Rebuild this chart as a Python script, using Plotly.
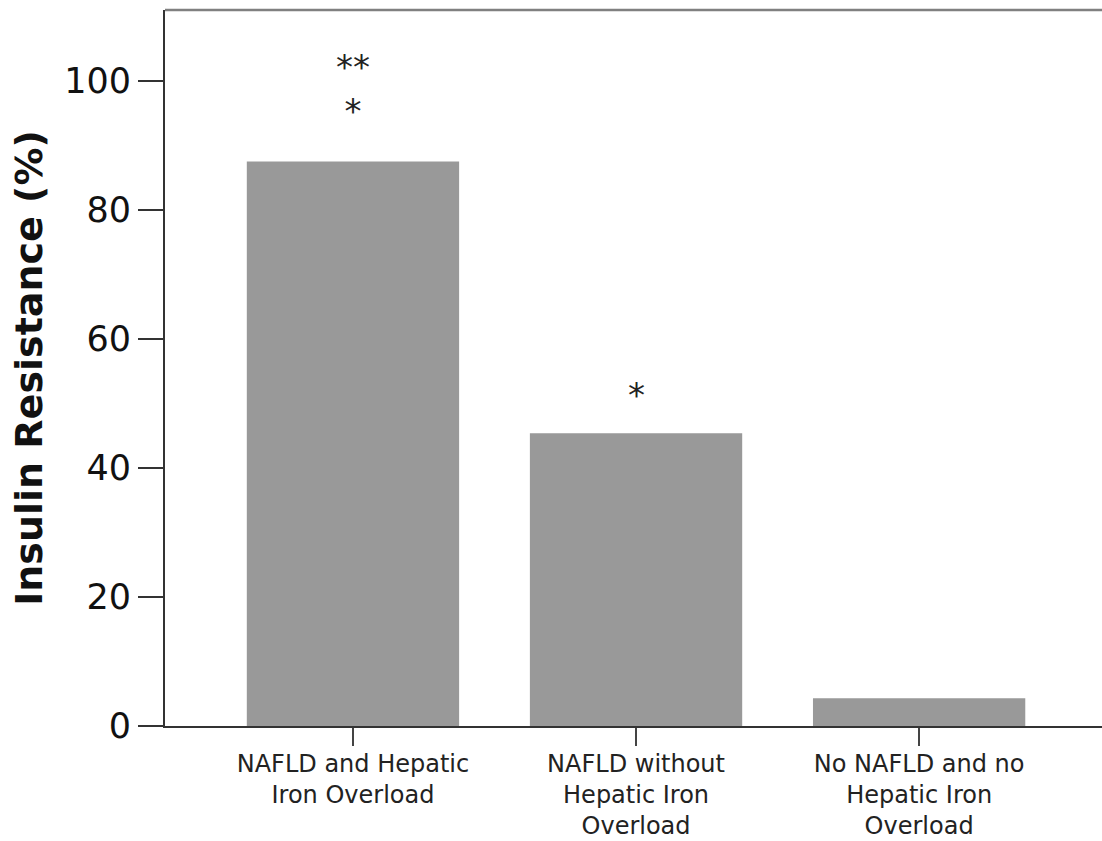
import plotly.graph_objects as go

categories = ["NAFLD and Hepatic<br>Iron Overload", "NAFLD without<br>Hepatic Iron<br>Overload", "No NAFLD and no<br>Hepatic Iron<br>Overload"]
values = [87.5, 45.4, 4.3]
stars = ["**<br>*", "*", ""]
star_levels = [98.8, 51.3, None]
y_ticks = [0, 20, 40, 60, 80, 100]

fig = go.Figure()
fig.add_trace(go.Bar(
    x=list(range(len(categories))), y=values,
    marker=dict(color="#999999", line=dict(width=0)),
    width=0.75,
))

for i, (s, lv) in enumerate(zip(stars, star_levels)):
    if s:
        fig.add_annotation(x=i, y=lv, text=s, showarrow=False, yanchor="middle",
                           font=dict(family="DejaVu Sans", size=34, color="#222"))

fig.add_shape(type="line", xref="paper", yref="paper", x0=0, x1=1, y0=1, y1=1,
              line=dict(color="#808080", width=2.5))

fig.update_layout(
    width=1102, height=841,
    margin=dict(l=165, r=0, t=10, b=115),
    plot_bgcolor="white", paper_bgcolor="white",
    showlegend=False,
    font=dict(family="DejaVu Sans", color="#111"),
)
fig.update_xaxes(
    tickmode="array", tickvals=list(range(len(categories))), ticktext=categories,
    range=[-0.664, 2.646], automargin=False,
    showline=True, linecolor="#333", linewidth=2,
    ticks="outside", ticklen=18, tickwidth=2, tickcolor="#444",
    ticklabelstandoff=-3,
    tickfont=dict(family="DejaVu Sans", size=24, color="#222"),
    showgrid=False, zeroline=False,
)
fig.update_yaxes(
    range=[0, 111], tickmode="array", tickvals=y_ticks, automargin=False,
    showline=True, linecolor="#333", linewidth=2,
    ticks="outside", ticklen=25, tickwidth=2, tickcolor="#333",
    tickfont=dict(family="DejaVu Sans", size=35, color="#111"),
    showgrid=False, zeroline=False,
    title=dict(text="<b>Insulin Resistance (%)</b>", font=dict(family="DejaVu Sans", size=38, color="#111"), standoff=10),
)

fig.write_html("out.html")
